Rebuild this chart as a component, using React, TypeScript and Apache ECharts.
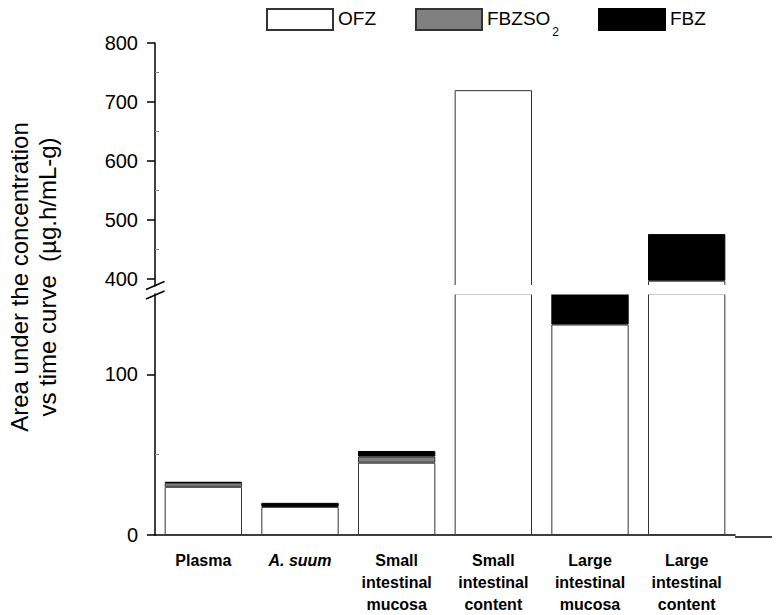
import React, { useEffect, useRef } from "react";
import * as echarts from "echarts";

const categories = [
  "Plasma",
  "A. suum",
  "Small\nintestinal\nmucosa",
  "Small\nintestinal\ncontent",
  "Large\nintestinal\nmucosa",
  "Large\nintestinal\ncontent",
];
const ofz = [30, 17.5, 45, 720, 131, 397];
const fbzso2 = [2.5, 0, 3.8, 0, 0, 0];
const fbz = [0.5, 2.5, 3.5, 0, 21, 79];

const upperTicks = [400, 500, 600, 700, 800];
const upperMinor = [450, 550, 650, 750];
const lowerTicks = [0, 100];
const lowerMinor = [50];

const FONT = "'Liberation Sans', Arial, Helvetica, sans-serif";

export default function App() {
  const ref = useRef<HTMLDivElement>(null);
  useEffect(() => {
    if (!ref.current) return;
    const chart = echarts.init(ref.current, undefined, { renderer: "svg" });
    const axisLine = { show: true, lineStyle: { color: "#000", width: 1.5 } };
    const seriesDefs = [
      { name: "OFZ", data: ofz, color: "#ffffff", border: "#333" },
      { name: "FBZSO2", data: fbzso2, color: "#808080", border: "#333" },
      { name: "FBZ", data: fbz, color: "#000000", border: "#000" },
    ];
    const series: any[] = [];
    [0, 1].forEach((g) => {
      seriesDefs.forEach((s) => {
        series.push({
          type: "bar",
          name: s.name,
          data: s.data.map((v) => (v === 0 ? null : v)),
          xAxisIndex: g,
          yAxisIndex: g === 0 ? 0 : 2,
          stack: g === 0 ? "up" : "low",
          barWidth: "80%",
          clip: true,
          itemStyle: { color: s.color, borderColor: s.border, borderWidth: 1 },
        });
      });
    });
    const yLabel = { fontSize: 20, color: "#000", fontFamily: FONT, margin: 17 };
    const option: any = {
      animation: false,
      backgroundColor: "#fff",
      textStyle: { fontFamily: FONT },
      legend: {
        top: 8,
        left: 266,
        padding: 0,
        itemWidth: 66,
        itemHeight: 21,
        itemGap: 39,
        icon: "rect",
        data: ["OFZ", "FBZSO2", "FBZ"],
        formatter: (name: string) => (name === "FBZSO2" ? "{m|FBZSO}{sub|2}" : "{m|" + name + "}"),
        textStyle: {
          fontSize: 19,
          color: "#000",
          fontFamily: FONT,
          rich: {
            m: { fontSize: 19, fontFamily: FONT, color: "#000", lineHeight: 22, verticalAlign: "top" },
            sub: { fontSize: 12, fontFamily: FONT, color: "#000", lineHeight: 12, verticalAlign: "top", padding: [17, 0, 0, 2] },
          },
        },
      },
      grid: [
        { left: 155, right: 43, top: 43, height: 243 },
        { left: 155, right: 43, top: 294, height: 243 },
      ],
      xAxis: [
        { gridIndex: 0, type: "category", data: categories, show: false },
        {
          gridIndex: 1,
          type: "category",
          data: categories,
          axisLine,
          axisTick: { alignWithLabel: true, length: 8, lineStyle: { color: "#000", width: 1.5 } },
          axisLabel: {
            interval: 0,
            fontSize: 16,
            fontWeight: "bold",
            color: "#000",
            fontFamily: FONT,
            lineHeight: 22,
            margin: 14,
            formatter: (v: string) => (v === "A. suum" ? "{i|A. suum}" : v),
            rich: { i: { fontStyle: "italic", fontWeight: "bold", fontSize: 16, fontFamily: FONT, color: "#000" } },
          },
        },
      ],
      yAxis: [
        {
          gridIndex: 0,
          type: "value",
          position: "left",
          min: 388,
          max: 800,
          axisLine,
          axisTick: { show: true, length: 8, customValues: upperTicks, lineStyle: { color: "#000", width: 1.5 } },
          axisLabel: { ...yLabel, customValues: upperTicks },
          splitLine: { show: false },
        },
        {
          gridIndex: 0,
          type: "value",
          position: "left",
          min: 388,
          max: 800,
          axisLine: { show: false },
          axisTick: { show: true, inside: true, length: 4, customValues: upperMinor, lineStyle: { color: "#888", width: 1 } },
          axisLabel: { show: false },
          splitLine: { show: false },
        },
        {
          gridIndex: 1,
          type: "value",
          position: "left",
          min: 0,
          max: 150,
          axisLine,
          axisTick: { show: true, length: 8, customValues: lowerTicks, lineStyle: { color: "#000", width: 1.5 } },
          axisLabel: { ...yLabel, customValues: lowerTicks },
          splitLine: { show: false },
        },
        {
          gridIndex: 1,
          type: "value",
          position: "left",
          min: 0,
          max: 150,
          axisLine: { show: false },
          axisTick: { show: true, inside: true, length: 4, customValues: lowerMinor, lineStyle: { color: "#888", width: 1 } },
          axisLabel: { show: false },
          splitLine: { show: false },
        },
      ],
      graphic: [
        { type: "rect", z: 100, shape: { x: 157, y: 285, width: 590, height: 9.5 }, style: { fill: "#fff" } },
        { type: "line", z: 101, shape: { x1: 146, y1: 289.5, x2: 164.5, y2: 281.5 }, style: { stroke: "#000", lineWidth: 1.5 } },
        { type: "line", z: 101, shape: { x1: 146, y1: 299, x2: 164.5, y2: 291 }, style: { stroke: "#000", lineWidth: 1.5 } },
        { type: "line", z: 101, shape: { x1: 735, y1: 537, x2: 772, y2: 537 }, style: { stroke: "#000", lineWidth: 1.5 } },
        {
          type: "text",
          x: 33,
          y: 277,
          rotation: Math.PI / 2,
          style: {
            text: "Area under the concentration\nvs time curve  (µg.h/mL-g)",
            fontSize: 24,
            fontFamily: FONT,
            fill: "#000",
            align: "center",
            verticalAlign: "middle",
            lineHeight: 28,
          },
        },
      ],
      series,
    };
    chart.setOption(option);
    return () => chart.dispose();
  }, []);
  return (
    <div
      ref={ref}
      style={{ position: "absolute", left: 0, top: 0, width: 778, height: 615, background: "#fff" }}
    />
  );
}
